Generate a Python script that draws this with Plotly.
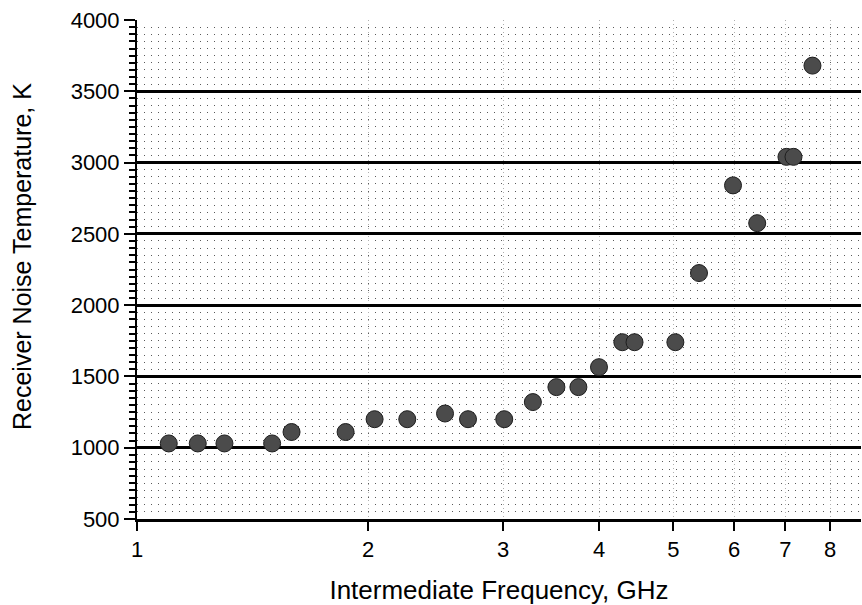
import plotly.graph_objects as go
import numpy as np

freq_ghz = [1.10, 1.20, 1.30, 1.50, 1.59, 1.87, 2.04, 2.25, 2.52, 2.70, 3.01, 3.28,
            3.52, 3.76, 4.00, 4.29, 4.45, 5.03, 5.40, 5.98, 6.43, 7.02, 7.17, 7.59]
noise_temp_k = [1030, 1030, 1030, 1030, 1110, 1110, 1200, 1200, 1240, 1200, 1200, 1320,
                1425, 1425, 1565, 1740, 1740, 1740, 2225, 2840, 2575, 3040, 3040, 3680]
x_ticks = [1, 2, 3, 4, 5, 6, 7, 8]
y_ticks = [500, 1000, 1500, 2000, 2500, 3000, 3500, 4000]

FONT = "Liberation Sans, Arial, sans-serif"
x_range = [0, np.log10(8.78)]

fig = go.Figure()
fig.add_trace(go.Scatter(
    x=freq_ghz, y=noise_temp_k, mode="markers",
    marker=dict(size=17, color="#4b4b4b", line=dict(color="#1e1e1e", width=1)),
    showlegend=False, hoverinfo="x+y",
))

fig.update_layout(
    width=862, height=605,
    margin=dict(l=137, r=1, t=20, b=86),
    paper_bgcolor="white", plot_bgcolor="white",
    font=dict(family=FONT, size=22, color="black"),
    xaxis=dict(
        type="log", range=x_range,
        tickvals=x_ticks, ticktext=[str(v) for v in x_ticks],
        ticks="outside", ticklen=9, tickwidth=2, tickcolor="black",
        showline=True, linecolor="black", linewidth=3,
        showgrid=True, gridcolor="#b0b0b0", griddash="1px,3px", gridwidth=1,
        zeroline=False,
        title=dict(text="Intermediate Frequency, GHz", font=dict(size=26), standoff=22),
        tickfont=dict(size=22),
    ),
    xaxis2=dict(
        type="log", range=x_range, overlaying="x", side="top", anchor="y",
        tickvals=x_ticks, showticklabels=False,
        ticks="inside", ticklen=6, tickwidth=2, tickcolor="black",
        showline=True, linecolor="black", linewidth=3, showgrid=False, zeroline=False,
    ),
    yaxis=dict(
        range=[500, 4000], tickvals=y_ticks,
        ticks="outside", ticklen=11, tickwidth=2, tickcolor="black",
        showline=True, linecolor="black", linewidth=2,
        showgrid=True, gridcolor="black", gridwidth=2.5,
        zeroline=False,
        minor=dict(dtick=50, ticks="outside", ticklen=6, tickwidth=2, tickcolor="black",
                   showgrid=True, gridcolor="#5a5a5a", griddash="1px,6px", gridwidth=1),
        tickfont=dict(size=22),
    ),
    annotations=[dict(
        text="Receiver Noise Temperature, K", textangle=-90,
        xref="paper", yref="paper", x=-(137 - 22) / 724, y=(519 - 257) / 499,
        xanchor="center", yanchor="middle", showarrow=False,
        font=dict(family=FONT, size=25, color="black"),
    )],
)

fig.write_html("out.html")
